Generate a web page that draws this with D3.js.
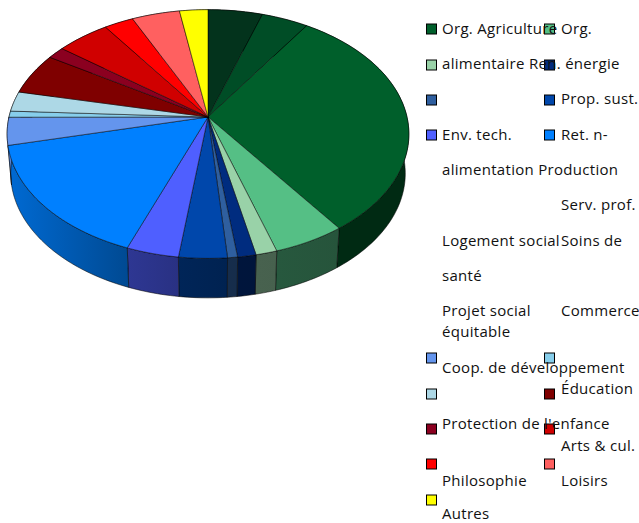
<!DOCTYPE html>
<html><head><meta charset="utf-8">
<script src="https://cdn.jsdelivr.net/npm/d3@7"></script>
<style>html,body{margin:0;padding:0;background:#fff}svg{display:block}text{font-family:"Open Sans",sans-serif;font-size:15px;letter-spacing:.3px;fill:#111}</style>
</head><body><svg id="c" width="639" height="523"></svg>
<script>
const sliceValues = [5.0,4.3,30.7,5.1,1.5,1.3,0.7,3.4,3.7,15.6,3.6,0.8,2.6,5.4,1.6,4.9,2.7,4.4,2.6];
const sliceColors = ["#03331c","#004d26","#005f2b","#55bf85","#99d2a8","#002c7f","#2f5f9f","#0047ab","#4f5fff","#0080ff","#6495ed","#87ceeb","#add8e6","#7f0000","#8b0020","#d00000","#ff0000","#ff6060","#ffff00"];
const swatchColors = ["#005f2b","#55bf85","#99d2a8","#002c7f","#2f5f9f","#0047ab","#4f5fff","#0080ff","#6495ed","#87ceeb","#add8e6","#7f0000","#8b0020","#d00000","#ff0000","#ff6060","#ffff00"];
const legendLeftLines = ["Org. Agriculture","alimentaire Ren. énergie","Env. tech.","alimentation Production","Logement social","santé","Projet social","équitable","Coop. de développement","Protection de l'enfance","Philosophie","Autres"];
const legendRightLines = ["Org.","Prop. sust.","Ret. n-","Serv. prof.","Soins de","Commerce","Éducation","Arts & cul.","Loisirs"];

// layout
const leftBase = [34,69,140,175,246,281,316,337,373,429,486,518.5];
const rightBase = [34,104,140,210,246,316,394,451,486];
const swatchY = [29,29,65,65,100,100,135,135,358,358,394,394,429,429,464,464,500];
const colX = [442,561], swatchX = [426.5,544.5];

const cx=208, cy=117, a=199, b=122, k=0.137, depth=39.5, shrink=0.982;
const svg=d3.select("#c");
const defs=svg.append("defs");
const arcs=d3.pie().sort(null).value(d=>d)(sliceValues);
const top3=t=>{const u=Math.sin(t),v=-Math.cos(t),w=1-k*v;return [cx+a*u/w,cy+b*v/w];};
const bot3=t=>{const p=top3(t);return [cx+(p[0]-cx)*shrink,p[1]+depth];};
const line=d3.line();
const steps=(s,e)=>{const n=Math.max(2,Math.ceil((e-s)/0.02));return d3.range(n+1).map(i=>s+(e-s)*i/n);};
const deg=Math.PI/180;
const shade=d3.scaleLinear().domain([0,90,150,180,210,262,275,360].map(d=>d*deg)).range([.5,.36,.45,.48,.62,.85,.9,.5]).clamp(true);

const side=svg.append("g");
arcs.forEach((d,i)=>{
  const base=d3.color(sliceColors[i]);
  const ts=steps(d.startAngle,d.endAngle);
  const x0=top3(d.startAngle)[0], x1=top3(d.endAngle)[0];
  const grad=defs.append("linearGradient").attr("id","g"+i).attr("gradientUnits","userSpaceOnUse")
    .attr("x1",x0).attr("x2",x1===x0?x0+1:x1).attr("y1",0).attr("y2",0);
  [0,1].forEach(o=>{
    const s=shade(d.startAngle+(d.endAngle-d.startAngle)*o);
    grad.append("stop").attr("offset",o).attr("stop-color",d3.rgb(base.r*s,base.g*s,base.b*s));
  });
  const pts=[...ts.map(top3),...ts.slice().reverse().map(bot3)];
  side.append("path").attr("d",line(pts)+"Z").attr("fill",`url(#g${i})`).attr("stroke","#000").attr("stroke-opacity",.75).attr("stroke-width",.7);
});
const topG=svg.append("g");
arcs.forEach((d,i)=>{
  const pts=[[cx,cy],...steps(d.startAngle,d.endAngle).map(top3)];
  topG.append("path").attr("d",line(pts)+"Z").attr("fill",sliceColors[i]).attr("stroke","#000").attr("stroke-opacity",.7).attr("stroke-width",.7).attr("stroke-linejoin","round");
});

const lg=svg.append("g");
swatchColors.forEach((c,i)=>{
  lg.append("rect").attr("x",swatchX[i%2]).attr("y",swatchY[i]-5).attr("width",10).attr("height",10).attr("fill",c).attr("stroke","#000").attr("stroke-width",1);
});
legendLeftLines.forEach((t,i)=>lg.append("text").attr("x",colX[0]).attr("y",leftBase[i]).text(t));
legendRightLines.forEach((t,i)=>lg.append("text").attr("x",colX[1]).attr("y",rightBase[i]).text(t));
</script></body></html>
